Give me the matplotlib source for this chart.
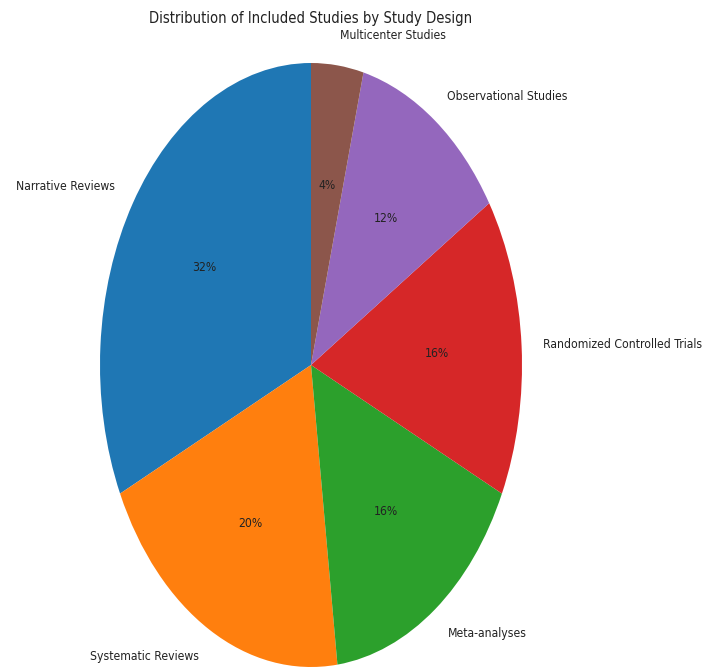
import matplotlib
matplotlib.use("Agg")
import matplotlib.pyplot as plt

categories = ["Narrative Reviews", "Systematic Reviews", "Meta-analyses",
              "Randomized Controlled Trials", "Observational Studies", "Multicenter Studies"]
counts = [8, 5, 4, 4, 3, 1]
colors = ["#1f77b4", "#ff7f0e", "#2ca02c", "#d62728", "#9467bd", "#8c564b"]
title = "Distribution of Included Studies by Study Design"

plt.rcParams['font.family'] = ['DejaVu Sans']
plt.rcParams['font.stretch'] = 'condensed'

W, H = 705, 669
fig = plt.figure(figsize=(W / 100, H / 100), dpi=100)
cx, cy, rx, ry = 311, 365, 211, 302
ax = fig.add_axes([(cx - rx) / W, (H - cy - ry) / H, 2 * rx / W, 2 * ry / H])
wedges, texts, autotexts = ax.pie(counts, labels=categories, colors=colors,
                                  autopct='%1.0f%%', startangle=90,
                                  textprops={'fontsize': 8.7, 'stretch': 'condensed',
                                             'color': '#222222'})
ax.set_aspect('auto')
ax.set_xlim(-1, 1)
ax.set_ylim(-1, 1)
ax.axis('off')
fig.text(cx / W, 1 - 18 / H, title, ha='center', va='center', fontsize=10.6,
         stretch='condensed', color='#222222')
fig.savefig("out.png", dpi=100)
